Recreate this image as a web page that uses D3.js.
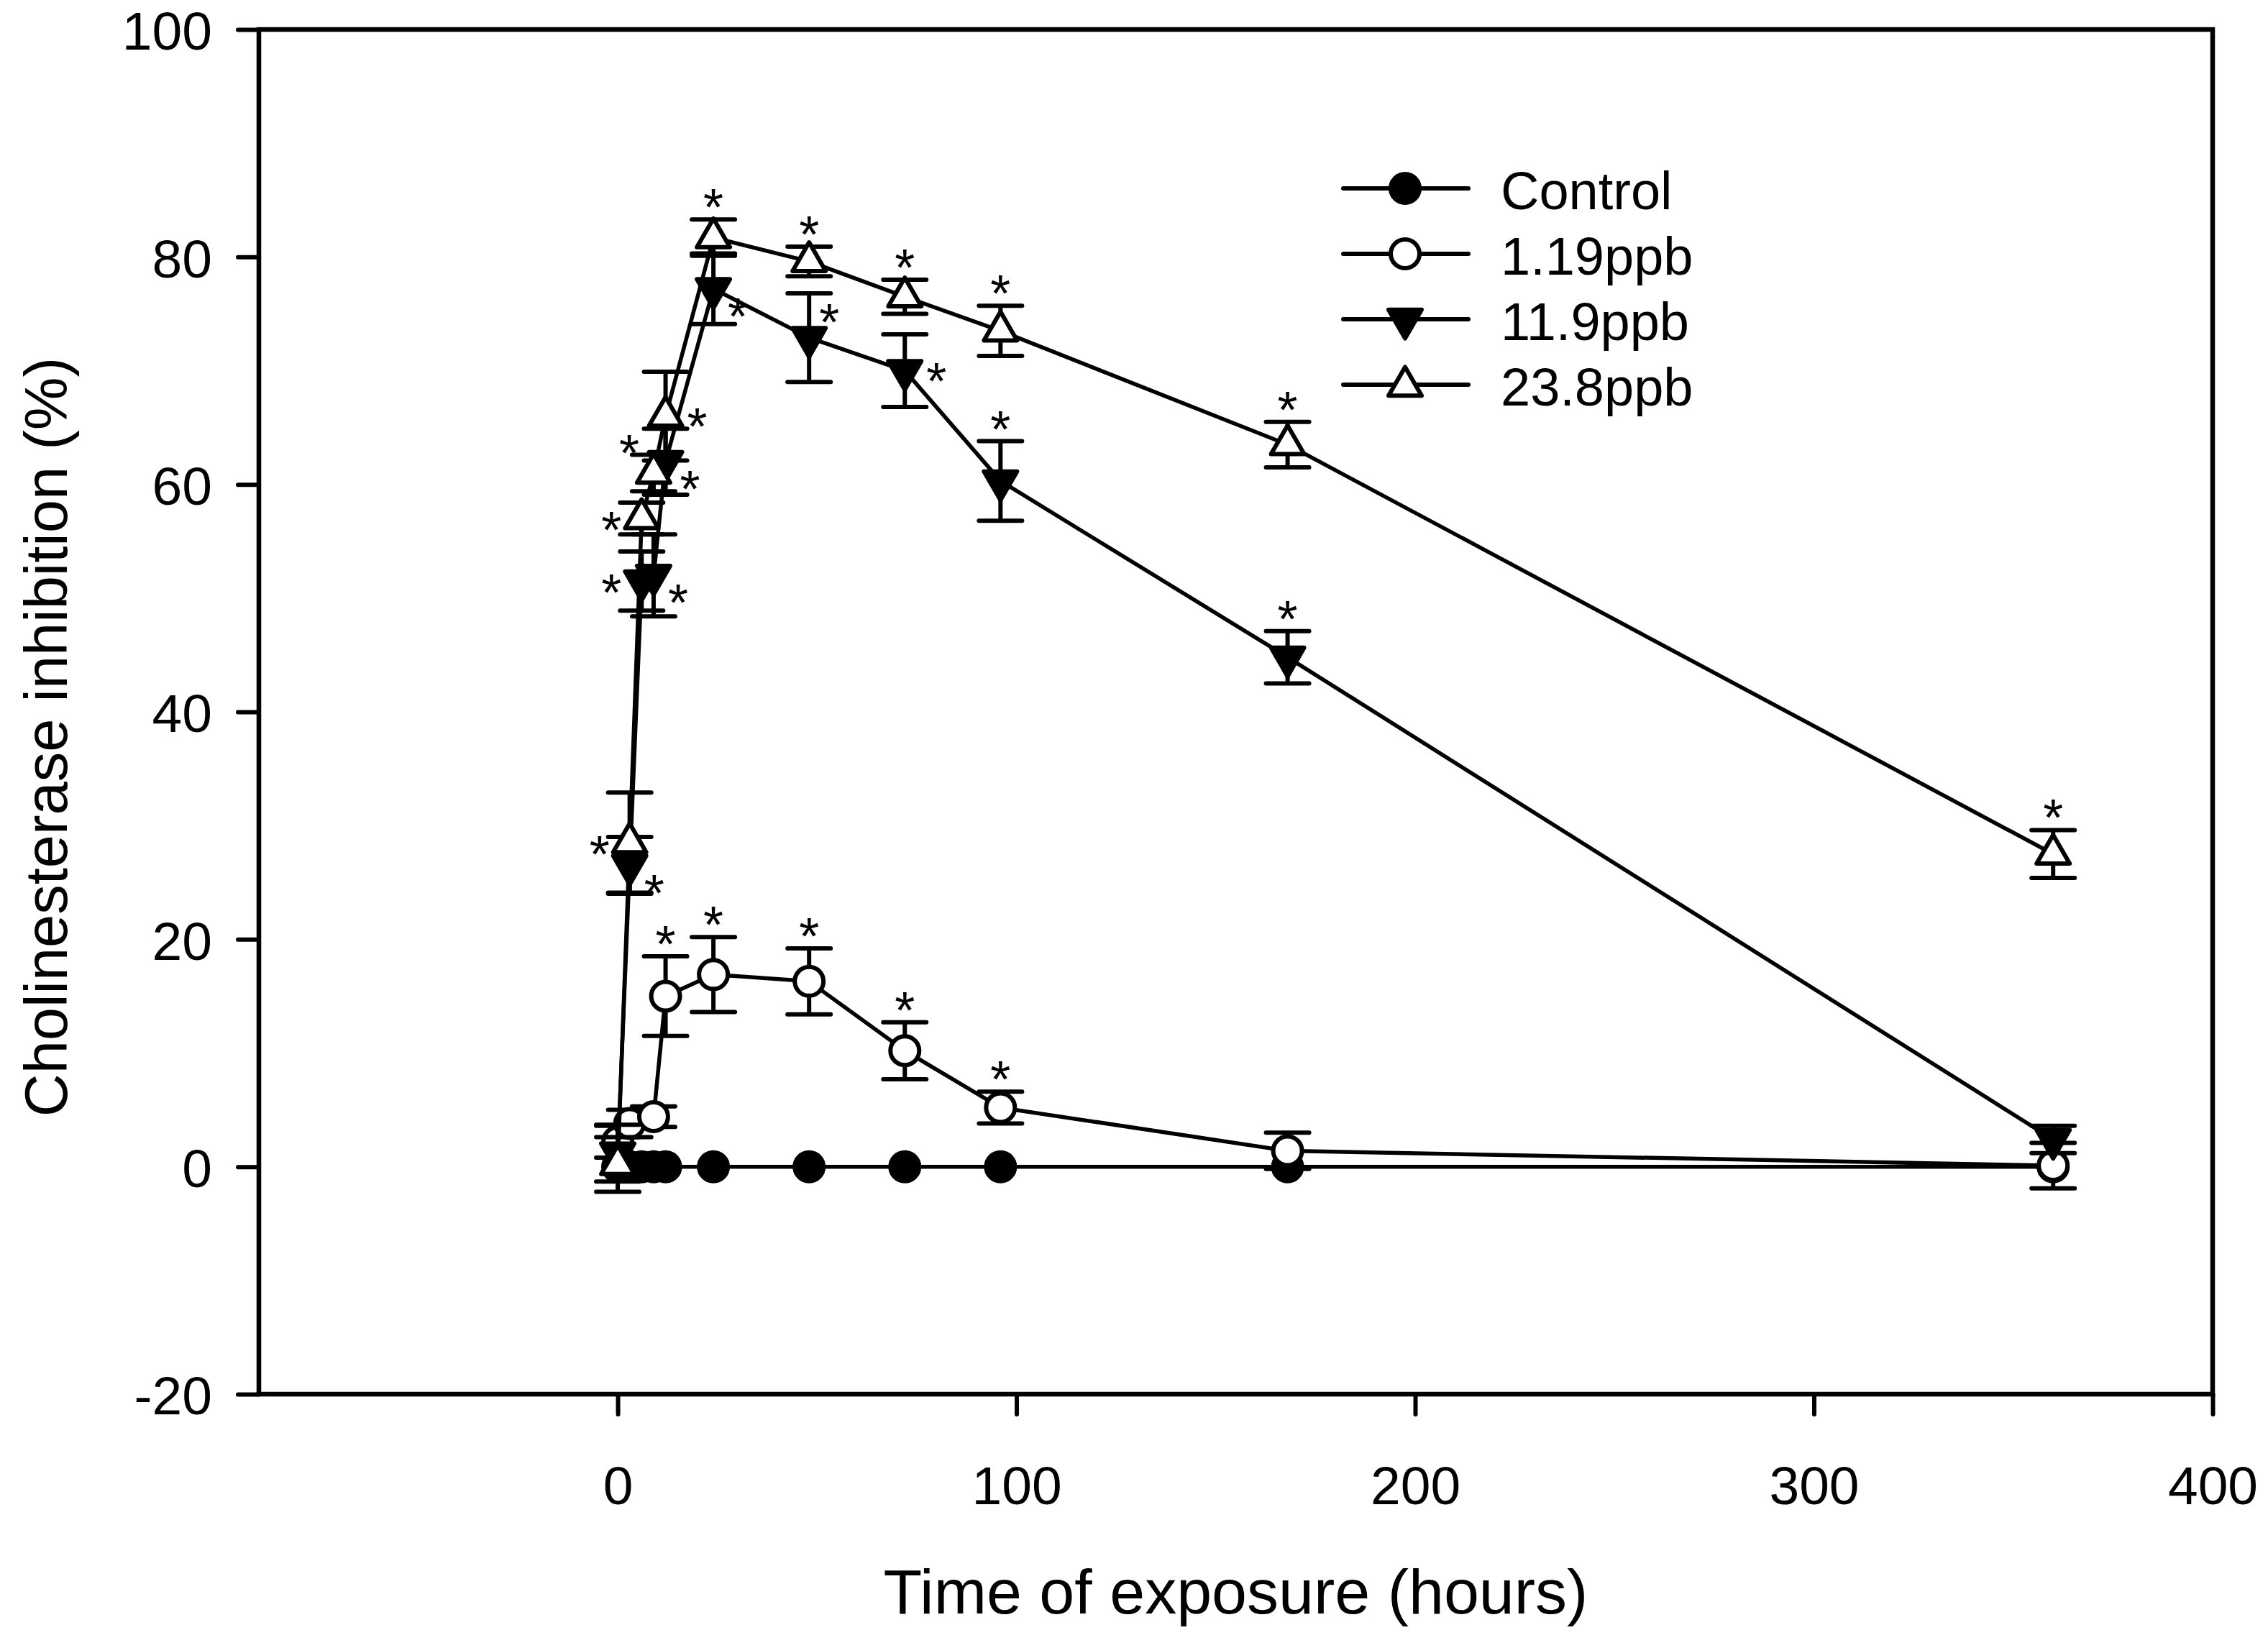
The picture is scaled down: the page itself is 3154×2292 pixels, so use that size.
<!DOCTYPE html>
<html>
<head>
<meta charset="utf-8">
<script src="https://cdn.jsdelivr.net/npm/d3@7/dist/d3.min.js"></script>
<style>
  html, body { margin: 0; padding: 0; background: #fff; }
  svg { display: block; font-family: "Liberation Sans", Arial, Helvetica, sans-serif; }
</style>
</head>
<body>
<div id="chart"></div>
<script>
// ---- data ----
const timesAll = [0, 3, 6, 9, 12, 24, 48, 72, 96, 168, 360];
const times119 = [0, 3, 9, 12, 24, 48, 72, 96, 168, 360];

const controlValues = [0, 0, 0, 0, 0, 0, 0, 0, 0, 0, 0];
const controlErrors = [0, 0, 0, 0, 0, 0, 0, 0, 0, 0, 0];

const ppb119Values = [2.2, 3.8, 4.4, 15.0, 16.9, 16.3, 10.2, 5.2, 1.4, 0.1];
const ppb119Errors = [1.4, 1.2, 0.9, 3.5, 3.3, 2.9, 2.5, 1.4, 1.6, 2.0];
const ppb119Stars = [[12, "top"], [24, "top"], [48, "top"], [72, "top"], [96, "top"]];

const ppb11Values = [1.2, 26.5, 51.5, 52.0, 62.0, 77.2, 72.9, 70.0, 60.3, 44.8, 2.4];
const ppb11Errors = [2.5, 2.5, 2.6, 3.6, 2.9, 3.1, 3.9, 3.2, 3.5, 2.3, 1.2];
const ppb11Stars = [[3, "downright"], [6, "left"], [9, "downright"], [12, "downright"],
                    [24, "downright"], [48, "upright"], [72, "right"], [96, "top"], [168, "top"]];

const ppb23Values = [0.2, 28.5, 57.0, 61.0, 66.0, 81.7, 79.6, 76.5, 73.5, 63.5, 27.5];
const ppb23Errors = [2.4, 4.4, 1.4, 1.6, 3.9, 1.6, 1.3, 1.5, 2.2, 2.0, 2.1];
const ppb23Stars = [[3, "left"], [6, "left"], [9, "upleft"], [12, "right"], [24, "top"],
                    [48, "top"], [72, "top"], [96, "top"], [168, "top"], [360, "top"]];

const seriesNames = ["Control", "1.19ppb", "11.9ppb", "23.8ppb"];
const xTicks = [0, 100, 200, 300, 400];
const yTicks = [-20, 0, 20, 40, 60, 80, 100];

// ---- chart ----
const width = 3154, height = 2292;
const plot = { left: 360, right: 3077, top: 41, bottom: 1939 };

const svg = d3.select("#chart").append("svg")
    .attr("width", width)
    .attr("height", height);

const x = d3.scaleLinear().domain([-90, 400]).range([plot.left, plot.right]);
const y = d3.scaleLinear().domain([-20, 100]).range([plot.bottom, plot.top]);

const zip = (ts, vs, es) => ts.map((t, i) => ({ t: t, v: vs[i], e: es[i] }));

const series = [
    { name: seriesNames[0], symbol: "circle", fill: "#000", data: zip(timesAll, controlValues, controlErrors), stars: [] },
    { name: seriesNames[1], symbol: "circle", fill: "#fff", data: zip(times119, ppb119Values, ppb119Errors), stars: ppb119Stars },
    { name: seriesNames[2], symbol: "down", fill: "#000", data: zip(timesAll, ppb11Values, ppb11Errors), stars: ppb11Stars },
    { name: seriesNames[3], symbol: "up", fill: "#fff", data: zip(timesAll, ppb23Values, ppb23Errors), stars: ppb23Stars }
];

const circlePath = d3.symbol().type(d3.symbolCircle).size(Math.PI * 20 * 20)();
const triPath = d3.symbol().type(d3.symbolTriangle).size(Math.sqrt(3) / 4 * 46 * 46)();

function drawMarker(g, s, cx, cy) {
    const p = g.append("path")
        .attr("d", s.symbol === "circle" ? circlePath : triPath)
        .attr("fill", s.fill)
        .attr("stroke", "#000")
        .attr("stroke-width", 6)
        .attr("stroke-linejoin", "round");
    if (s.symbol === "down") {
        p.attr("transform", `translate(${cx},${cy}) rotate(180)`);
    } else {
        p.attr("transform", `translate(${cx},${cy})`);
    }
}

// axes
const yAxis = d3.axisLeft(y).tickValues(yTicks).tickSize(29).tickPadding(36)
    .tickFormat(d => String(d));
const xAxis = d3.axisBottom(x).tickValues(xTicks).tickSize(28).tickPadding(72)
    .tickFormat(d => String(d));

const gy = svg.append("g").attr("transform", `translate(${plot.left},0)`).call(yAxis);
const gx = svg.append("g").attr("transform", `translate(0,${plot.bottom})`).call(xAxis);

[gx, gy].forEach(g => {
    g.select(".domain").remove();
    g.selectAll(".tick line").attr("stroke", "#000").attr("stroke-width", 6).attr("stroke-linecap", "round");
    g.selectAll(".tick text").attr("fill", "#000").attr("font-size", 75)
        .attr("font-family", "'Liberation Sans', Arial, sans-serif");
});
gy.selectAll(".tick text").attr("dy", "0.37em");

// frame
svg.append("rect")
    .attr("x", plot.left).attr("y", plot.top)
    .attr("width", plot.right - plot.left).attr("height", plot.bottom - plot.top)
    .attr("fill", "none").attr("stroke", "#000").attr("stroke-width", 6.5);

// series
const line = d3.line().x(d => x(d.t)).y(d => y(d.v));
const capHalf = 30;

series.forEach(s => {
    const g = svg.append("g").attr("class", "series");
    g.append("path")
        .datum(s.data)
        .attr("d", line)
        .attr("fill", "none")
        .attr("stroke", "#000")
        .attr("stroke-width", 5.5)
        .attr("stroke-linejoin", "round");

    s.data.filter(d => d.e > 0).forEach(d => {
        const cx = x(d.t), y1 = y(d.v + d.e), y0 = y(d.v - d.e);
        g.append("line").attr("x1", cx).attr("x2", cx).attr("y1", y1).attr("y2", y0)
            .attr("stroke", "#000").attr("stroke-width", 6);
        [y1, y0].forEach(yy => {
            g.append("line").attr("x1", cx - capHalf).attr("x2", cx + capHalf)
                .attr("y1", yy).attr("y2", yy)
                .attr("stroke", "#000").attr("stroke-width", 6).attr("stroke-linecap", "round");
        });
    });

    s.data.forEach(d => drawMarker(g, s, x(d.t), y(d.v)));
});

// significance asterisks
const starOffset = {
    left: [-42, 4],
    right: [44, 2],
    upleft: [-34, -40],
    upright: [28, -34],
    downright: [34, 26]
};
series.forEach(s => {
    s.stars.forEach(([t, side]) => {
        const d = s.data.find(p => p.t === t);
        let sx = x(d.t), sy;
        if (side === "top") {
            sy = y(d.v + d.e) - 29;
        } else {
            sx += starOffset[side][0];
            sy = y(d.v) + starOffset[side][1];
        }
        svg.append("text")
            .attr("x", sx).attr("y", sy + 37)
            .attr("text-anchor", "middle")
            .attr("font-size", 72)
            .attr("fill", "#000")
            .text("*");
    });
});

// legend
const legend = svg.append("g").attr("transform", "translate(1868,262)");
series.forEach((s, i) => {
    const row = legend.append("g").attr("transform", `translate(0,${i * 91})`);
    row.append("line").attr("x1", 0).attr("x2", 174).attr("y1", 0).attr("y2", 0)
        .attr("stroke", "#000").attr("stroke-width", 6).attr("stroke-linecap", "round");
    drawMarker(row, s, 86, s.symbol === "up" ? 2 : 0);
    row.append("text")
        .attr("x", 219).attr("y", 29)
        .attr("font-size", 74)
        .attr("fill", "#000")
        .text(s.name);
});

// axis titles
svg.append("text")
    .attr("x", (plot.left + plot.right) / 2).attr("y", 2244)
    .attr("text-anchor", "middle")
    .attr("font-size", 88)
    .attr("fill", "#000")
    .text("Time of exposure (hours)");

svg.append("text")
    .attr("transform", "translate(93,1025) rotate(-90)")
    .attr("text-anchor", "middle")
    .attr("font-size", 83)
    .attr("fill", "#000")
    .text("Cholinesterase inhibition (%)");
</script>
</body>
</html>
